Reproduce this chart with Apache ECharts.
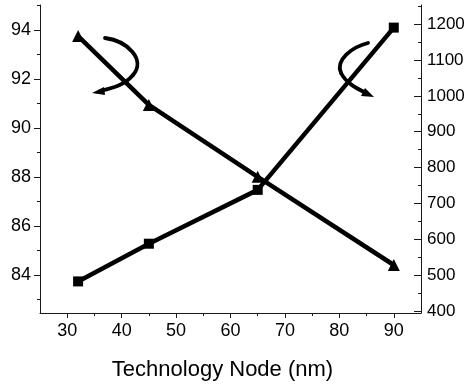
<!DOCTYPE html>
<html>
<head>
<meta charset="utf-8">
<script src="https://cdn.jsdelivr.net/npm/echarts@6/dist/echarts.min.js"></script>
<style>html,body{margin:0;padding:0;background:#fff}#c{width:471px;height:386px}</style>
</head>
<body>
<div id="c"></div>
<script>
const xValues = [32, 45, 65, 90];
const triangleValues = [93.75, 90.94, 88.0, 84.4];
const squareValues = [483, 588, 738, 1190];
const xTicks = [30, 40, 50, 60, 70, 80, 90];
const xMinorTicks = [35, 45, 55, 65, 75, 85];
const leftTicks = [84, 86, 88, 90, 92, 94];
const leftMinorTicks = [83, 85, 87, 89, 91, 93, 95];
const rightTicks = [400, 500, 600, 700, 800, 900, 1000, 1100, 1200];
const rightMinorTicks = [450, 550, 650, 750, 850, 950, 1050, 1150, 1250];
const xTitle = 'Technology Node (nm)';

const FONT = 'Liberation Sans, Arial, sans-serif';
const AX = '#1a1a1a';
const X_MIN = 25, X_MAX = 95, L_MIN = 82.44, L_MAX = 95.02, R_MIN = 395, R_MAX = 1253;
const plain = v => String(v);

function curve(x1, y1, cpx1, cpy1, cpx2, cpy2, x2, y2) {
  return {type: 'bezierCurve', shape: {x1, y1, cpx1, cpy1, cpx2, cpy2, x2, y2},
    style: {stroke: '#000', lineWidth: 3.8, fill: null, lineCap: 'round'}};
}

const chart = echarts.init(document.getElementById('c'), null, {renderer: 'canvas'});
chart.setOption({
  animation: false,
  backgroundColor: '#fff',
  grid: {left: 40, right: 50, top: 5, bottom: 73},
  xAxis: [{
    type: 'value', min: X_MIN, max: X_MAX, position: 'bottom',
    axisLine: {show: true, lineStyle: {color: AX, width: 1}},
    axisTick: {show: true, length: 5, customValues: xTicks, lineStyle: {color: AX}},
    axisLabel: {show: true, customValues: xTicks, formatter: plain, margin: 9, color: '#000', fontSize: 18, fontFamily: FONT},
    splitLine: {show: false},
    name: xTitle, nameLocation: 'middle', nameGap: 46,
    nameTextStyle: {color: '#000', fontSize: 22, fontFamily: FONT, padding: [0, 16, 0, 0]}
  }, {
    type: 'value', min: X_MIN, max: X_MAX, position: 'bottom',
    axisLine: {show: false},
    axisTick: {show: true, length: 3, customValues: xMinorTicks, lineStyle: {color: AX}},
    axisLabel: {show: false}, splitLine: {show: false}
  }],
  yAxis: [{
    type: 'value', min: L_MIN, max: L_MAX, position: 'left',
    axisLine: {show: true, lineStyle: {color: AX, width: 1}},
    axisTick: {show: true, length: 6, customValues: leftTicks, lineStyle: {color: AX}},
    axisLabel: {show: true, customValues: leftTicks, formatter: plain, margin: 9, color: '#000', fontSize: 18, fontFamily: FONT},
    splitLine: {show: false}
  }, {
    type: 'value', min: R_MIN, max: R_MAX, position: 'right',
    axisLine: {show: true, lineStyle: {color: AX, width: 1}},
    axisTick: {show: true, inside: true, length: 7, customValues: rightTicks, lineStyle: {color: AX}},
    axisLabel: {show: true, customValues: rightTicks, formatter: plain, margin: 6, color: '#000', fontSize: 17, fontFamily: FONT},
    splitLine: {show: false}
  }, {
    type: 'value', min: L_MIN, max: L_MAX, position: 'left',
    axisLine: {show: false},
    axisTick: {show: true, length: 3, customValues: leftMinorTicks, lineStyle: {color: AX}},
    axisLabel: {show: false}, splitLine: {show: false}
  }, {
    type: 'value', min: R_MIN, max: R_MAX, position: 'right',
    axisLine: {show: false},
    axisTick: {show: true, inside: true, length: 3, customValues: rightMinorTicks, lineStyle: {color: AX}},
    axisLabel: {show: false}, splitLine: {show: false}
  }],
  series: [{
    type: 'line', xAxisIndex: 0, yAxisIndex: 0,
    data: xValues.map((x, i) => [x, triangleValues[i]]),
    symbol: 'triangle', symbolSize: 12,
    lineStyle: {color: '#000', width: 4.5},
    itemStyle: {color: '#000'}
  }, {
    type: 'line', xAxisIndex: 0, yAxisIndex: 1,
    data: xValues.map((x, i) => [x, squareValues[i]]),
    symbol: 'rect', symbolSize: 10,
    lineStyle: {color: '#000', width: 4.5},
    itemStyle: {color: '#000'}
  }],
  graphic: [
    curve(105, 38, 128, 41, 146, 60, 133, 75),
    curve(133, 75, 125, 85, 112, 88, 100, 91),
    {type: 'polygon', shape: {points: [[92, 93], [104, 87], [105, 95]]}, style: {fill: '#000'}},
    curve(368, 43, 352, 47, 335, 60, 341, 73),
    curve(341, 73, 346, 83, 356, 88, 366, 93),
    {type: 'polygon', shape: {points: [[374, 97], [361, 96], [365, 88]]}, style: {fill: '#000'}}
  ]
});
</script>
</body>
</html>
